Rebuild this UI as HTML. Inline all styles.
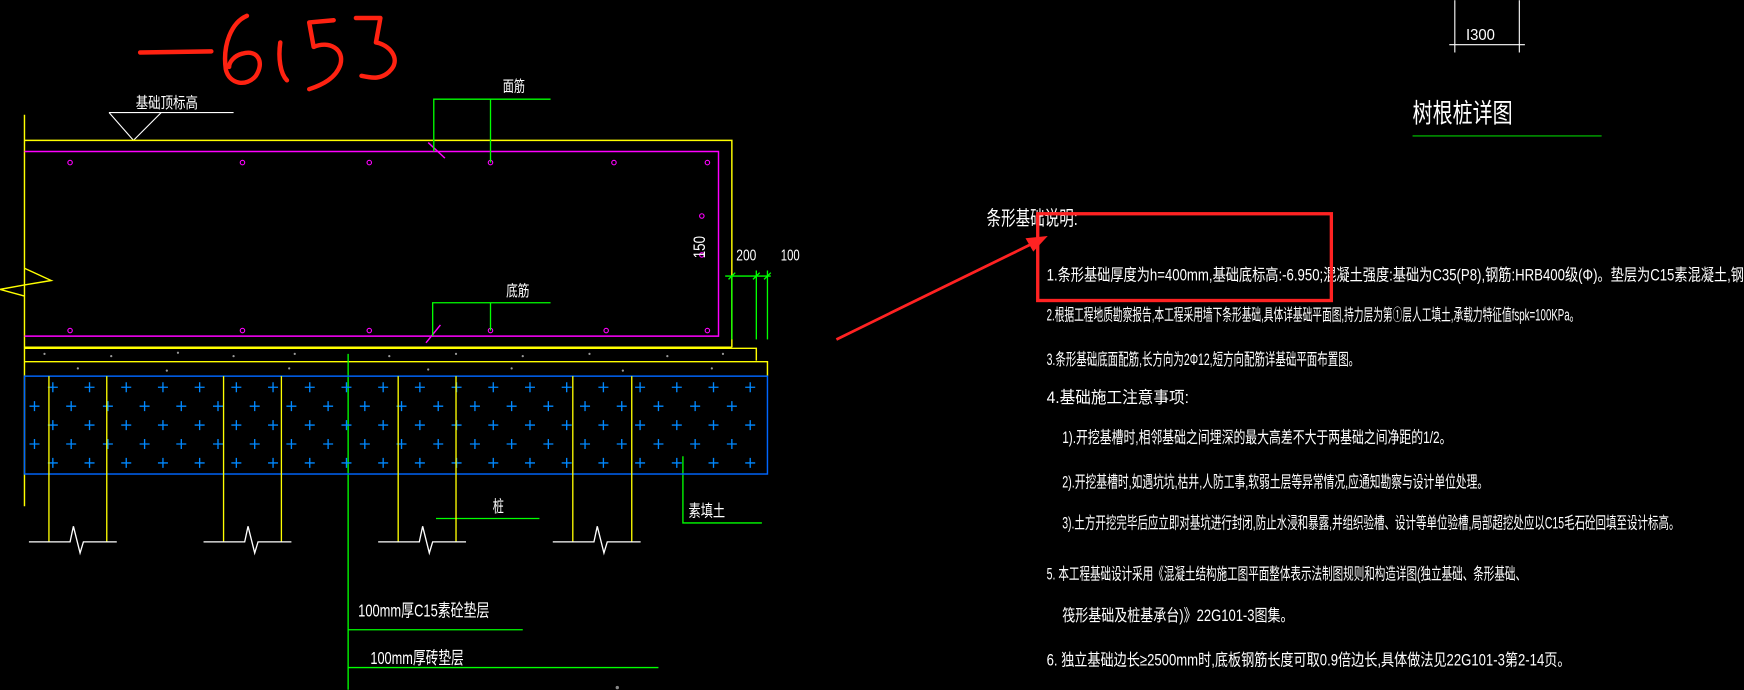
<!DOCTYPE html>
<html><head><meta charset="utf-8"><style>
html,body{margin:0;padding:0;background:#000;width:1744px;height:690px;overflow:hidden}
svg{display:block}
text{font-family:"Liberation Sans","Noto Sans CJK SC",sans-serif;fill:#fff}
</style></head><body>
<svg width="1744" height="690" viewBox="0 0 1568 620" xmlns="http://www.w3.org/2000/svg">
<defs>
<path id="row" d="M43 348h9M47.5 343.5v9 M76 348h9M80.5 343.5v9 M109 348h9M113.5 343.5v9 M142 348h9M146.5 343.5v9 M175 348h9M179.5 343.5v9 M208 348h9M212.5 343.5v9 M241 348h9M245.5 343.5v9 M274 348h9M278.5 343.5v9 M307 348h9M311.5 343.5v9 M340 348h9M344.5 343.5v9 M373 348h9M377.5 343.5v9 M406 348h9M410.5 343.5v9 M439 348h9M443.5 343.5v9 M472 348h9M476.5 343.5v9 M505 348h9M509.5 343.5v9 M538 348h9M542.5 343.5v9 M571 348h9M575.5 343.5v9 M604 348h9M608.5 343.5v9 M637 348h9M641.5 343.5v9 M670 348h9M674.5 343.5v9"/>
</defs>
<rect width="1568" height="620" fill="#000"/>
<g fill="none" stroke="#f21" stroke-width="4" stroke-linecap="round" stroke-linejoin="round">
<path d="M126 47 L190 46"/>
<path d="M222 14 C208 20 200 40 203 62 C206 76 222 78 230 68 C238 56 232 44 218 48 C210 50 206 56 206 60"/>
<path d="M252 38 C250 52 252 66 258 72"/>
<path d="M300 18 L278 20 L282 42 C296 36 310 44 306 58 C302 70 290 76 278 80"/>
<path d="M320 16 L342 16 L338 38 C350 40 360 52 352 62 C344 72 334 70 325 68"/>
</g>
<text x="122" y="97" font-size="14" textLength="56" lengthAdjust="spacingAndGlyphs">基础顶标高</text>
<polyline points="98,101 210,101" stroke="#fff" stroke-width="1" fill="none"/>
<polyline points="98,101 120,126 145,101" stroke="#fff" stroke-width="1" fill="none"/>
<g stroke="#ff0" stroke-width="1.3" fill="none">
<line x1="22" y1="103" x2="22" y2="455"/>
<polyline points="22,126 658,126 658,312"/>
<line x1="22" y1="312" x2="658" y2="312"/>
<polyline points="22,313 680,313 680,324"/>
<polyline points="22,325 690,325 690,338"/>
<polyline points="22,241 46,252 22,256 0,260 22,266"/>
</g>
<g stroke="#f0f" stroke-width="1.3" fill="none">
<polyline points="22,136 646,136 646,302 22,302"/>
<line x1="385" y1="128" x2="400" y2="142"/>
<line x1="383" y1="308" x2="396" y2="292"/>
</g>
<g fill="none" stroke="#f0f" stroke-width="1">
<circle cx="63" cy="146" r="2"/><circle cx="218" cy="146" r="2"/><circle cx="332" cy="146" r="2"/><circle cx="441" cy="146" r="2"/><circle cx="552" cy="146" r="2"/><circle cx="636" cy="146" r="2"/>
<circle cx="63" cy="297" r="2"/><circle cx="218" cy="297" r="2"/><circle cx="332" cy="297" r="2"/><circle cx="441" cy="297" r="2"/><circle cx="545" cy="297" r="2"/><circle cx="636" cy="297" r="2"/>
<circle cx="631" cy="194" r="2"/><circle cx="631" cy="229" r="2"/>
</g>
<text x="0" y="0" font-size="15" transform="translate(634,232) rotate(-90)" textLength="20" lengthAdjust="spacingAndGlyphs">150</text>
<g stroke="#0f0" stroke-width="1.2" fill="none">
<line x1="652" y1="248" x2="693" y2="248"/>
<line x1="658" y1="248" x2="658" y2="305"/>
<line x1="680" y1="243" x2="680" y2="305"/>
<line x1="690" y1="243" x2="690" y2="305"/>
<line x1="655" y1="251" x2="661" y2="245"/><line x1="677" y1="251" x2="683" y2="245"/><line x1="687" y1="251" x2="693" y2="245"/>
<polyline points="495,89 390,89 390,136"/><line x1="441" y1="89" x2="441" y2="146"/>
<polyline points="495,272 389,272 389,302"/><line x1="441" y1="272" x2="441" y2="297"/>
<line x1="313" y1="318" x2="313" y2="620"/>
<line x1="313" y1="566" x2="470" y2="566"/>
<line x1="313" y1="600" x2="592" y2="600"/>
<line x1="392" y1="466" x2="485" y2="466"/>
<polyline points="614,410 614,470 685,470"/>
</g>
<text x="662" y="234" font-size="14" textLength="18" lengthAdjust="spacingAndGlyphs">200</text>
<text x="702" y="234" font-size="14" textLength="17" lengthAdjust="spacingAndGlyphs">100</text>
<text x="452" y="82" font-size="14" textLength="20" lengthAdjust="spacingAndGlyphs">面筋</text>
<text x="455" y="266" font-size="14" textLength="21" lengthAdjust="spacingAndGlyphs">底筋</text>
<text x="443" y="460" font-size="15" textLength="10" lengthAdjust="spacingAndGlyphs">桩</text>
<text x="619" y="464" font-size="15" textLength="33" lengthAdjust="spacingAndGlyphs">素填土</text>
<text x="322" y="554" font-size="16" textLength="118" lengthAdjust="spacingAndGlyphs">100mm厚C15素砼垫层</text>
<text x="333" y="597" font-size="16" textLength="84" lengthAdjust="spacingAndGlyphs">100mm厚砖垫层</text>
<g fill="#999">
<circle cx="40" cy="318" r="1"/><circle cx="100" cy="320" r="1"/><circle cx="160" cy="317" r="1"/><circle cx="210" cy="320" r="1"/><circle cx="265" cy="318" r="1"/><circle cx="350" cy="320" r="1"/><circle cx="410" cy="318" r="1"/><circle cx="470" cy="320" r="1"/><circle cx="530" cy="318" r="1"/><circle cx="600" cy="320" r="1"/><circle cx="650" cy="318" r="1"/>
<circle cx="70" cy="331" r="1"/><circle cx="150" cy="333" r="1"/><circle cx="260" cy="331" r="1"/><circle cx="385" cy="332" r="1"/><circle cx="460" cy="331" r="1"/><circle cx="560" cy="333" r="1"/><circle cx="640" cy="331" r="1"/>
</g>
<rect x="22" y="338" width="668" height="88" fill="none" stroke="#06f" stroke-width="1.3"/>
<g stroke="#08f" stroke-width="1.2">
<use href="#row"/>
<use href="#row" transform="translate(-16.5,17)"/>
<use href="#row" transform="translate(0,34)"/>
<use href="#row" transform="translate(-16.5,51)"/>
<use href="#row" transform="translate(0,68)"/>
</g>
<rect x="0" y="338" width="21" height="90" fill="#000"/>
<rect x="691" y="338" width="20" height="90" fill="#000"/>
<g stroke="#ff0" stroke-width="1.2">
<line x1="44" y1="338" x2="44" y2="487"/><line x1="96" y1="338" x2="96" y2="487"/>
<line x1="201" y1="338" x2="201" y2="487"/><line x1="253" y1="338" x2="253" y2="487"/>
<line x1="358" y1="338" x2="358" y2="487"/><line x1="410" y1="338" x2="410" y2="487"/>
<line x1="515" y1="338" x2="515" y2="487"/><line x1="568" y1="338" x2="568" y2="487"/>
</g>
<g stroke="#fff" stroke-width="1.2" fill="none">
<polyline points="26,487 63,487 66,473 72,497 75,487 105,487"/>
<polyline points="183,487 220,487 223,473 229,497 232,487 262,487"/>
<polyline points="340,487 377,487 380,473 386,497 389,487 419,487"/>
<polyline points="497,487 534,487 537,473 543,497 546,487 576,487"/>
</g>
<g stroke="#fff" stroke-width="1" fill="none">
<line x1="1308" y1="0" x2="1308" y2="47"/><line x1="1366" y1="0" x2="1366" y2="47"/>
<line x1="1303" y1="40" x2="1371" y2="40"/>
</g>
<text x="1318" y="36" font-size="14" textLength="26" lengthAdjust="spacingAndGlyphs">I300</text>
<text x="1270" y="110" font-size="24" textLength="90" lengthAdjust="spacingAndGlyphs">树根桩详图</text>
<line x1="1270" y1="122" x2="1440" y2="122" stroke="#0c0" stroke-width="1"/>
<text x="887" y="202" font-size="18" textLength="82" lengthAdjust="spacingAndGlyphs">条形基础说明:</text>
<g font-size="15">
<text x="941" y="252" textLength="627" lengthAdjust="spacingAndGlyphs">1.条形基础厚度为h=400mm,基础底标高:-6.950;混凝土强度:基础为C35(P8),钢筋:HRB400级(Φ)。垫层为C15素混凝土,钢</text>
<text x="941" y="288" textLength="479" lengthAdjust="spacingAndGlyphs">2.根据工程地质勘察报告,本工程采用墙下条形基础,具体详基础平面图,持力层为第①层人工填土,承载力特征值fspk=100KPa。</text>
<text x="941" y="328" textLength="281" lengthAdjust="spacingAndGlyphs">3.条形基础底面配筋,长方向为2Φ12,短方向配筋详基础平面布置图。</text>
<text x="941" y="362" textLength="128" lengthAdjust="spacingAndGlyphs">4.基础施工注意事项:</text>
<text x="955" y="398" textLength="350" lengthAdjust="spacingAndGlyphs">1).开挖基槽时,相邻基础之间埋深的最大高差不大于两基础之间净距的1/2。</text>
<text x="955" y="438" textLength="383" lengthAdjust="spacingAndGlyphs">2).开挖基槽时,如遇坑坑,枯井,人防工事,软弱土层等异常情况,应通知勘察与设计单位处理。</text>
<text x="955" y="475" textLength="555" lengthAdjust="spacingAndGlyphs">3).土方开挖完毕后应立即对基坑进行封闭,防止水浸和暴露,并组织验槽、设计等单位验槽,局部超挖处应以C15毛石砼回填至设计标高。</text>
<text x="941" y="521" textLength="431" lengthAdjust="spacingAndGlyphs">5. 本工程基础设计采用《混凝土结构施工图平面整体表示法制图规则和构造详图(独立基础、条形基础、</text>
<text x="955" y="558" textLength="208" lengthAdjust="spacingAndGlyphs">筏形基础及桩基承台)》22G101-3图集。</text>
<text x="941" y="598" textLength="471" lengthAdjust="spacingAndGlyphs">6. 独立基础边长≥2500mm时,底板钢筋长度可取0.9倍边长,具体做法见22G101-3第2-14页。</text>
</g>
<rect x="933" y="192" width="264" height="78" fill="none" stroke="#f22" stroke-width="3"/>
<line x1="752" y1="305" x2="932" y2="217" stroke="#f22" stroke-width="2.5"/>
<polygon points="942,212 922,214 929,226" fill="#f22"/>
<circle cx="555" cy="618" r="1.5" fill="#888"/>
</svg>
</body></html>
